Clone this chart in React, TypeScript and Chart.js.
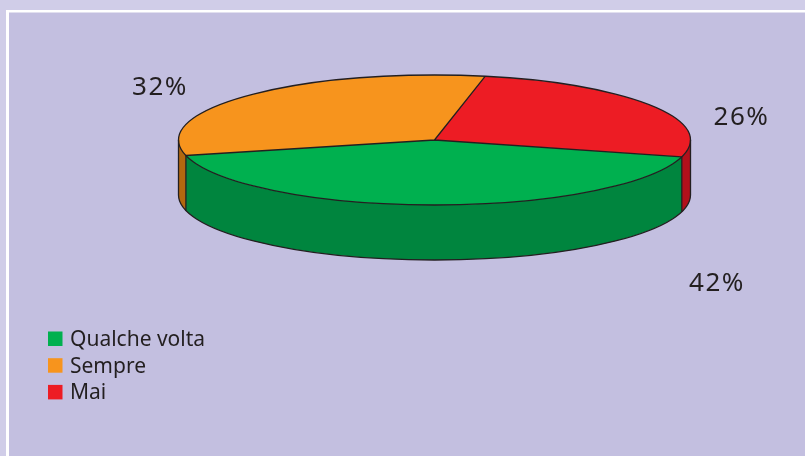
import React, { useEffect, useRef } from "react";
import { Chart, registerables } from "chart.js";

Chart.register(...registerables);

// ---- data ----
const categories: string[] = ["Qualche volta", "Sempre", "Mai"];
const values: number[] = [42, 32, 26];
const topColors: string[] = ["#00b04f", "#f7941d", "#ed1c24"];
const sideColors: string[] = ["#00853e", "#b2680f", "#b2101b"];

// ---- layout / style ----
const W = 805;
const H = 456;
const FONT = '"Noto Sans", "Open Sans", sans-serif';
const OUTLINE = "#231f20";
const PIE = { cx: 434.5, cy: 140, rx: 256, ry: 65, depth: 55 };
const LABEL_POS = [
  { x: 717, y: 291 },
  { x: 160, y: 95 },
  { x: 741.5, y: 125 },
];
const LEGEND = { x: 48, y: 331.5, box: 14.5, gap: 26.7, textX: 70, font: 21 };

const pie3d = {
  id: "pie3d",
  beforeDraw(chart: any) {
    const ctx: CanvasRenderingContext2D = chart.ctx;
    ctx.save();
    ctx.fillStyle = "#d0cde8";
    ctx.fillRect(0, 0, W, H);
    ctx.fillStyle = "#ffffff";
    ctx.fillRect(6, 10, W, H);
    ctx.fillStyle = "#c3bfe0";
    ctx.fillRect(9, 12.5, W, H);
    ctx.restore();
  },
  beforeDatasetsDraw(chart: any) {
    const ctx: CanvasRenderingContext2D = chart.ctx;
    const meta = chart.getDatasetMeta(0);
    const { cx, cy, rx, ry, depth } = PIE;
    ctx.save();
    meta.data.forEach((arc: any, i: number) => {
      const { startAngle, endAngle } = arc.getProps(["startAngle", "endAngle"], true);
      for (const k of [-2, 0, 2]) {
        const a = Math.max(startAngle, k * Math.PI);
        const b = Math.min(endAngle, (k + 1) * Math.PI);
        if (b <= a) continue;
        ctx.beginPath();
        ctx.ellipse(cx, cy, rx, ry, 0, a, b, false);
        ctx.ellipse(cx, cy + depth, rx, ry, 0, b, a, true);
        ctx.closePath();
        ctx.fillStyle = sideColors[i];
        ctx.fill();
      }
    });
    ctx.restore();
    const a0 = meta.data[0];
    const r = a0.outerRadius;
    ctx.save();
    ctx.translate(cx, cy);
    ctx.scale(rx / r, ry / r);
    ctx.translate(-a0.x, -a0.y);
  },
  afterDatasetsDraw(chart: any) {
    const ctx: CanvasRenderingContext2D = chart.ctx;
    ctx.restore();
    const meta = chart.getDatasetMeta(0);
    const { cx, cy, rx, ry, depth } = PIE;
    ctx.save();
    ctx.strokeStyle = OUTLINE;
    ctx.lineWidth = 1.3;
    ctx.lineJoin = "round";
    ctx.beginPath();
    ctx.ellipse(cx, cy, rx, ry, 0, 0, Math.PI * 2);
    ctx.stroke();
    ctx.beginPath();
    ctx.ellipse(cx, cy + depth, rx, ry, 0, 0, Math.PI);
    ctx.stroke();
    ctx.beginPath();
    ctx.moveTo(cx + rx, cy);
    ctx.lineTo(cx + rx, cy + depth);
    ctx.moveTo(cx - rx, cy);
    ctx.lineTo(cx - rx, cy + depth);
    meta.data.forEach((arc: any) => {
      const { startAngle } = arc.getProps(["startAngle"], true);
      const px = cx + rx * Math.cos(startAngle);
      const py = cy + ry * Math.sin(startAngle);
      ctx.moveTo(cx, cy);
      ctx.lineTo(px, py);
      if (Math.sin(startAngle) > 0) {
        ctx.moveTo(px, py);
        ctx.lineTo(px, py + depth);
      }
    });
    ctx.stroke();
    ctx.restore();
  },
  afterDraw(chart: any) {
    const ctx: CanvasRenderingContext2D = chart.ctx;
    ctx.save();
    ctx.fillStyle = OUTLINE;
    ctx.textBaseline = "alphabetic";
    ctx.textAlign = "center";
    ctx.font = `26px ${FONT}`;
    (ctx as any).letterSpacing = "1.5px";
    values.forEach((v, i) => {
      ctx.fillText(`${v}%`, LABEL_POS[i].x, LABEL_POS[i].y);
    });
    (ctx as any).letterSpacing = "0px";
    ctx.textAlign = "left";
    ctx.font = `${LEGEND.font}px ${FONT}`;
    categories.forEach((c, i) => {
      const y = LEGEND.y + i * LEGEND.gap;
      ctx.fillStyle = topColors[i];
      ctx.fillRect(LEGEND.x, y, LEGEND.box, LEGEND.box);
      ctx.fillStyle = OUTLINE;
      ctx.fillText(c, LEGEND.textX, y + LEGEND.box);
    });
    ctx.restore();
  },
};

export default function App() {
  const ref = useRef<HTMLCanvasElement | null>(null);
  useEffect(() => {
    document.body.style.margin = "0";
    const canvas = ref.current!;
    const chart = new Chart(canvas, {
      type: "pie",
      data: {
        labels: categories,
        datasets: [
          {
            data: values,
            backgroundColor: topColors,
            borderWidth: 0,
            hoverOffset: 0,
          },
        ],
      },
      options: {
        responsive: false,
        animation: false,
        devicePixelRatio: 1,
        rotation: 105,
        events: [],
        layout: { padding: 0 },
        plugins: {
          legend: { display: false },
          tooltip: { enabled: false },
        },
      },
      plugins: [pie3d],
    } as any);
    return () => chart.destroy();
  }, []);
  return (
    <div style={{ position: "fixed", left: 0, top: 0, width: W, height: H }}>
      <canvas ref={ref} width={W} height={H} style={{ display: "block", width: W, height: H }} />
    </div>
  );
}
